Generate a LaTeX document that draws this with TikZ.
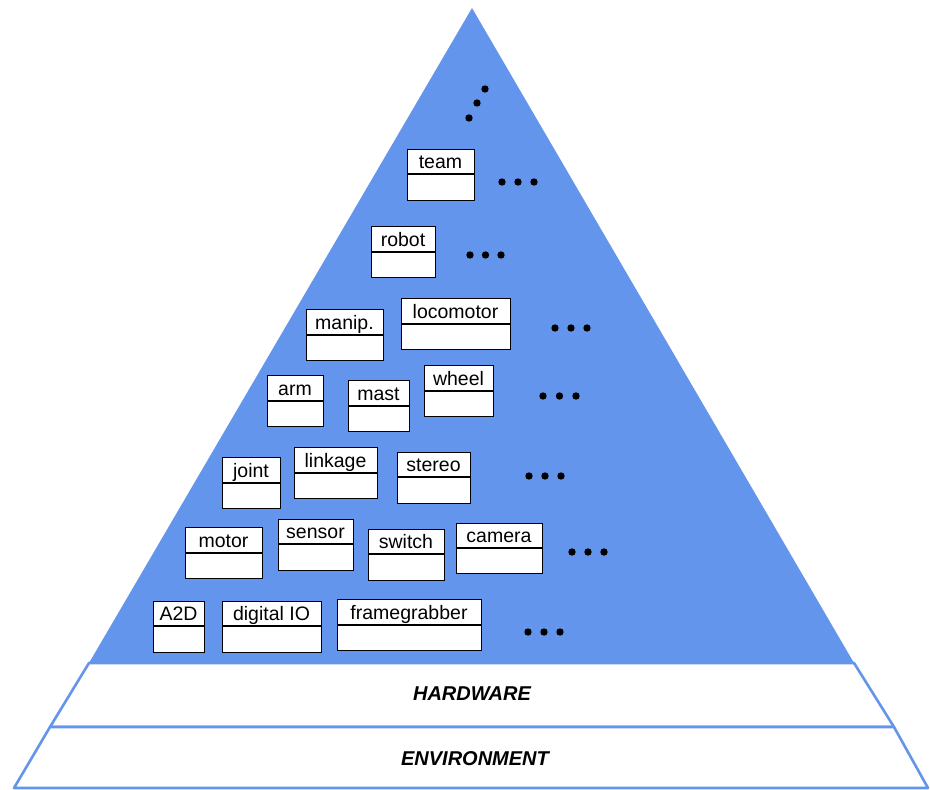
\documentclass[tikz,border=0pt]{standalone}
\usepackage{fontspec}
\setmainfont{Liberation Sans}
\definecolor{layerblue}{RGB}{100,149,237}
\tikzset{
  layerfill/.style={fill=layerblue},
  layerband/.style={fill=white, draw=layerblue, line width=2.6pt, line join=round},
  boxframe/.style={draw=black, fill=white, line width=1.3pt, inner sep=0pt, anchor=north west},
  boxdivider/.style={draw=black, line width=1.3pt},
  boxlabel/.style={font=\fontsize{19.5}{22}\selectfont, inner sep=0pt, anchor=base},
  bandlabel/.style={font=\fontsize{20}{22}\selectfont\bfseries\itshape, inner sep=0pt, anchor=base},
  dotmark/.style={circle, fill=black, inner sep=0pt, minimum size=7.4pt},
}
% a two-compartment component box: name, left, top, right, divider, bottom, label
\newcommand\compbox[7]{%
  \node[boxframe, minimum width={(#4-#2)*1pt}, minimum height={(#6-#3)*1pt}] (#1) at (#2,#3) {};
  \draw[boxdivider] (#1.west |- 0,#5) -- (#1.east |- 0,#5);
  \node[boxlabel] (#1-label) at ({(#2+#4)/2},#5-6) {#7};
}
% a row of three dots: name, first x, y, spacing
\newcommand\dotrow[4]{%
  \node[dotmark] (#1-a) at (#2,#3) {};
  \node[dotmark] (#1-b) at (#2+#4,#3) {};
  \node[dotmark] (#1-c) at (#2+2*#4,#3) {};
}
\begin{document}
\begin{tikzpicture}[x=1pt,y=-1pt]
\useasboundingbox (0,0) rectangle (930,790);

% the pyramid of software layers
\fill[layerfill] (472,8) -- (854,663) -- (89,663) -- cycle;
% the two bottom bands
\draw[layerband] (89,663) -- (854,663) -- (894,727) -- (50,727) -- cycle;
\draw[layerband] (50,727) -- (894,727) -- (928,788) -- (14,788) -- cycle;
\node[bandlabel] (hardware) at (472,700) {HARDWARE};
\node[bandlabel] (environment) at (475,765) {ENVIRONMENT};

% further levels above
\node[dotmark] (up-a) at (485,89) {};
\node[dotmark] (up-b) at (477,103) {};
\node[dotmark] (up-c) at (469,118) {};

% level 7
\compbox{team}{407}{149}{474}{174}{200}{team}
\dotrow{dots7}{502}{182}{16}

% level 6
\compbox{robot}{371}{226}{435}{252}{277}{robot}
\dotrow{dots6}{470}{255}{15.5}

% level 5
\compbox{manip}{306}{309}{383}{335}{360}{manip.}
\compbox{locomotor}{401}{298}{510}{324}{349}{locomotor}
\dotrow{dots5}{555}{328}{16}

% level 4
\compbox{arm}{267}{375}{323}{401}{426}{arm}
\compbox{mast}{348}{380}{409}{406}{431}{mast}
\compbox{wheel}{424}{365}{493}{391}{416}{wheel}
\dotrow{dots4}{543}{396}{16.5}

% level 3
\compbox{joint}{222}{457}{280}{483}{508}{joint}
\compbox{linkage}{294}{447}{377}{473}{498}{linkage}
\compbox{stereo}{397}{452}{470}{477}{503}{stereo}
\dotrow{dots3}{529}{476}{16}

% level 2
\compbox{motor}{185}{527}{262}{553}{578}{motor}
\compbox{sensor}{278}{519}{353}{544}{570}{sensor}
\compbox{switch}{368}{529}{444}{554}{580}{switch}
\compbox{camera}{456}{523}{542}{548}{573}{camera}
\dotrow{dots2}{572}{552}{16}

% level 1
\compbox{atod}{153}{601}{204}{626}{652}{A2D}
\compbox{digitalio}{222}{601}{321}{626}{652}{digital IO}
\compbox{framegrabber}{337}{599}{481}{625}{650}{framegrabber}
\dotrow{dots1}{528}{632}{16}
\end{tikzpicture}
\end{document}
